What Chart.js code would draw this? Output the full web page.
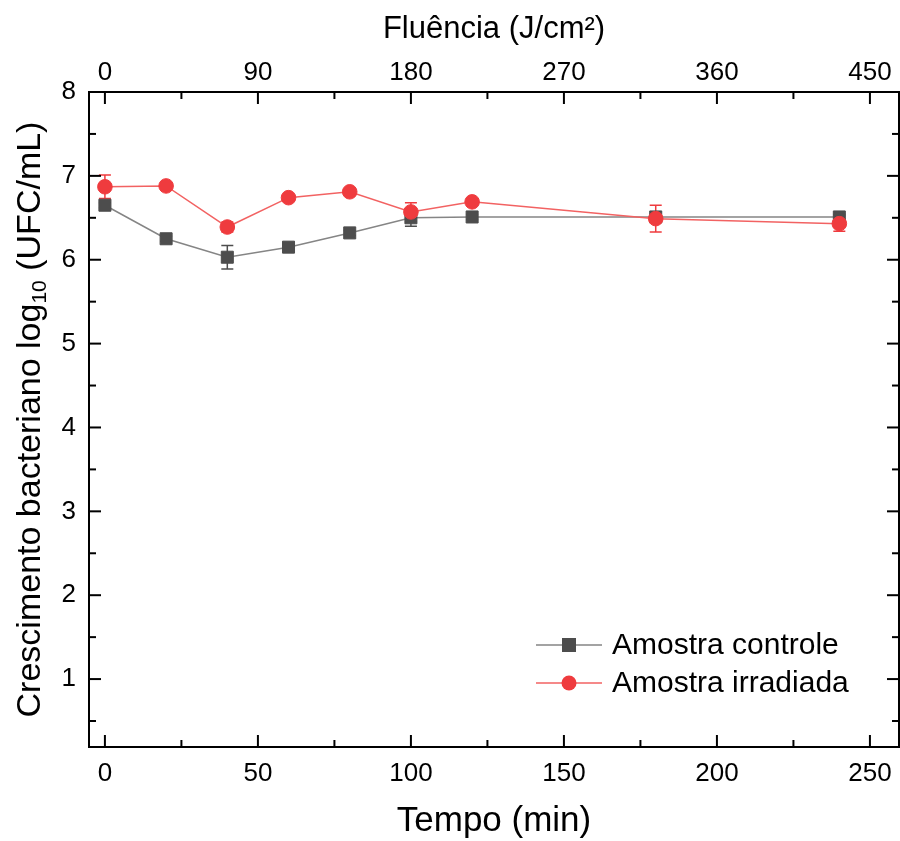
<!DOCTYPE html>
<html>
<head>
<meta charset="utf-8">
<script src="https://cdn.jsdelivr.net/npm/chart.js@4.4.1/dist/chart.umd.min.js"></script>
<style>
  html, body { margin: 0; padding: 0; background: #fff; }
</style>
</head>
<body>
<canvas id="chart" width="900" height="841"></canvas>
<script>
// valores
const tempoMin = [0, 20, 40, 60, 80, 100, 120, 180, 240];
const controle = [6.65, 6.25, 6.03, 6.15, 6.32, 6.50, 6.51, 6.51, 6.51];
const controleErr = [0.03, 0.03, 0.14, 0.04, 0.03, 0.10, 0.03, 0.03, 0.03];
const irradiada = [6.87, 6.88, 6.39, 6.74, 6.81, 6.57, 6.69, 6.49, 6.43];
const irradiadaErr = [0.14, 0.03, 0.06, 0.03, 0.03, 0.11, 0.03, 0.16, 0.09];

const tempoTicks = [0, 50, 100, 150, 200, 250];
const fluenciaTicks = [0, 90, 180, 270, 360, 450];
const yTicks = [1, 2, 3, 4, 5, 6, 7, 8];
const fluenciaPorMin = 1.8; // J/cm2 por minuto

const xMin = -5.2, xMax = 259.5;
const yMin = 0.19, yMax = 8;

const FONT = "'Liberation Sans', Arial, sans-serif";
Chart.defaults.font.family = FONT;
Chart.defaults.color = '#000';

const toPoints = (ys) => ys.map((y, i) => ({ x: tempoMin[i], y: y }));

function minorsOf(ticks, lo, hi) {
  const step = ticks[1] - ticks[0];
  const out = [];
  for (let v = ticks[0] - step / 2; v <= hi; v += step) {
    if (v >= lo) out.push(v);
  }
  return out;
}

const baseAxis = {
  grid: { display: true, drawOnChartArea: false, drawTicks: false },
  border: { display: true, color: '#000', width: 2 }
};

// marcas de escala para dentro, nos quatro lados
const inwardTicks = {
  id: 'inwardTicks',
  afterDraw(chart) {
    const { ctx, chartArea: a, scales } = chart;
    const major = 12, minor = 7;
    ctx.save();
    ctx.strokeStyle = '#000';
    ctx.lineWidth = 2;
    const seg = (x1, y1, x2, y2) => {
      ctx.beginPath(); ctx.moveTo(x1, y1); ctx.lineTo(x2, y2); ctx.stroke();
    };
    tempoTicks.forEach(v => {
      const px = scales.x.getPixelForValue(v);
      seg(px, a.bottom, px, a.bottom - major);
    });
    minorsOf(tempoTicks, xMin, xMax).forEach(v => {
      const px = scales.x.getPixelForValue(v);
      seg(px, a.bottom, px, a.bottom - minor);
    });
    fluenciaTicks.forEach(v => {
      const px = scales.x2.getPixelForValue(v);
      seg(px, a.top, px, a.top + major);
    });
    minorsOf(fluenciaTicks, xMin * fluenciaPorMin, xMax * fluenciaPorMin).forEach(v => {
      const px = scales.x2.getPixelForValue(v);
      seg(px, a.top, px, a.top + minor);
    });
    yTicks.forEach(v => {
      const py = scales.y.getPixelForValue(v);
      seg(a.left, py, a.left + major, py);
      seg(a.right, py, a.right - major, py);
    });
    minorsOf(yTicks, yMin, yMax).forEach(v => {
      const py = scales.y.getPixelForValue(v);
      seg(a.left, py, a.left + minor, py);
      seg(a.right, py, a.right - minor, py);
    });
    ctx.restore();
  }
};

// barras de erro
const errorBars = {
  id: 'errorBars',
  beforeDatasetsDraw(chart) {
    const { ctx, scales } = chart;
    const errs = [controleErr, irradiadaErr];
    ctx.save();
    ctx.lineWidth = 1.5;
    chart.data.datasets.forEach((ds, di) => {
      ctx.strokeStyle = ds.pointBackgroundColor;
      ds.data.forEach((p, i) => {
        const e = errs[di][i];
        const px = scales.x.getPixelForValue(p.x);
        const top = scales.y.getPixelForValue(p.y + e);
        const bot = scales.y.getPixelForValue(p.y - e);
        ctx.beginPath();
        ctx.moveTo(px, top); ctx.lineTo(px, bot);
        ctx.moveTo(px - 6, top); ctx.lineTo(px + 6, top);
        ctx.moveTo(px - 6, bot); ctx.lineTo(px + 6, bot);
        ctx.stroke();
      });
    });
    ctx.restore();
  }
};

// legenda dentro da área do gráfico
const innerLegend = {
  id: 'innerLegend',
  afterDraw(chart) {
    const { ctx, chartArea: a } = chart;
    const x0 = a.left + 447, x1 = a.left + 513, tx = a.left + 523;
    const rows = [a.top + 553, a.top + 591];
    const order = [0, 1];
    ctx.save();
    order.forEach((di, r) => {
      const ds = chart.data.datasets[di];
      const y = rows[r];
      ctx.strokeStyle = ds.borderColor;
      ctx.lineWidth = 1.5;
      ctx.beginPath(); ctx.moveTo(x0, y); ctx.lineTo(x1, y); ctx.stroke();
      ctx.fillStyle = ds.pointBackgroundColor;
      const cx = (x0 + x1) / 2;
      ctx.beginPath();
      if (ds.pointStyle === 'rect') {
        ctx.rect(cx - 7, y - 7, 14, 14);
      } else {
        ctx.arc(cx, y, 7.5, 0, Math.PI * 2);
      }
      ctx.fill();
      ctx.fillStyle = '#000';
      ctx.font = '30px ' + FONT;
      ctx.textBaseline = 'middle';
      ctx.textAlign = 'left';
      ctx.fillText(ds.label, tx, y + 1);
    });
    ctx.restore();
  }
};

// título do eixo y com índice
const yTitle = {
  id: 'yTitle',
  afterDraw(chart) {
    const { ctx, chartArea: a } = chart;
    const big = '34px ' + FONT, small = '21px ' + FONT;
    const parts = [
      { t: 'Crescimento bacteriano log', f: big, dy: 0 },
      { t: '10', f: small, dy: 9 },
      { t: ' (UFC/mL)', f: big, dy: 0 }
    ];
    ctx.save();
    let total = 0;
    parts.forEach(p => { ctx.font = p.f; p.w = ctx.measureText(p.t).width; total += p.w; });
    ctx.translate(31, (a.top + a.bottom) / 2);
    ctx.rotate(-Math.PI / 2);
    ctx.fillStyle = '#000';
    ctx.textBaseline = 'middle';
    ctx.textAlign = 'left';
    let x = -total / 2;
    parts.forEach(p => {
      ctx.font = p.f;
      ctx.fillText(p.t, x, p.dy);
      x += p.w;
    });
    ctx.restore();
  }
};

const noSidePad = s => { s.paddingLeft = 0; s.paddingRight = 0; };

new Chart(document.getElementById('chart'), {
  type: 'line',
  data: {
    datasets: [
      {
        label: 'Amostra controle',
        data: toPoints(controle),
        borderColor: '#858585',
        borderWidth: 1.5,
        pointStyle: 'rect',
        pointRadius: 8.5,
        pointBorderWidth: 1,
        pointBackgroundColor: '#4d4d4d',
        pointBorderColor: '#4d4d4d',
        order: 2
      },
      {
        label: 'Amostra irradiada',
        data: toPoints(irradiada),
        borderColor: '#f26262',
        borderWidth: 1.5,
        pointStyle: 'circle',
        pointRadius: 7.3,
        pointBorderWidth: 1,
        pointBackgroundColor: '#ef3b3e',
        pointBorderColor: '#ef3b3e',
        order: 1
      }
    ]
  },
  options: {
    responsive: false,
    animation: false,
    devicePixelRatio: 1,
    layout: { padding: 0, autoPadding: false },
    plugins: {
      legend: { display: false },
      tooltip: { enabled: false }
    },
    scales: {
      x: {
        ...baseAxis,
        type: 'linear',
        position: 'bottom',
        min: xMin,
        max: xMax,
        afterBuildTicks: s => { s.ticks = tempoTicks.map(v => ({ value: v })); },
        afterFit: s => { s.height = 94; noSidePad(s); },
        ticks: { font: { size: 26 }, padding: 11, maxRotation: 0 },
        title: { display: true, text: 'Tempo (min)', font: { size: 35, lineHeight: 1.1 }, padding: { top: 0, bottom: 0 } }
      },
      x2: {
        ...baseAxis,
        type: 'linear',
        position: 'top',
        min: xMin * fluenciaPorMin,
        max: xMax * fluenciaPorMin,
        afterBuildTicks: s => { s.ticks = fluenciaTicks.map(v => ({ value: v })); },
        afterFit: s => { s.height = 92; noSidePad(s); },
        ticks: { font: { size: 26 }, padding: 4, maxRotation: 0 },
        title: { display: true, text: 'Fluência (J/cm²)', font: { size: 31 }, padding: { top: 11, bottom: 0 } }
      },
      y: {
        ...baseAxis,
        type: 'linear',
        position: 'left',
        min: yMin,
        max: yMax,
        afterBuildTicks: s => { s.ticks = yTicks.map(v => ({ value: v })); },
        afterFit: s => { s.width = 89; },
        ticks: { font: { size: 26 }, padding: 13 }
      },
      yr: {
        ...baseAxis,
        type: 'linear',
        position: 'right',
        min: yMin,
        max: yMax,
        ticks: { display: false },
        afterFit: s => { s.width = 1; }
      }
    }
  },
  plugins: [errorBars, inwardTicks, innerLegend, yTitle]
});
</script>
</body>
</html>
